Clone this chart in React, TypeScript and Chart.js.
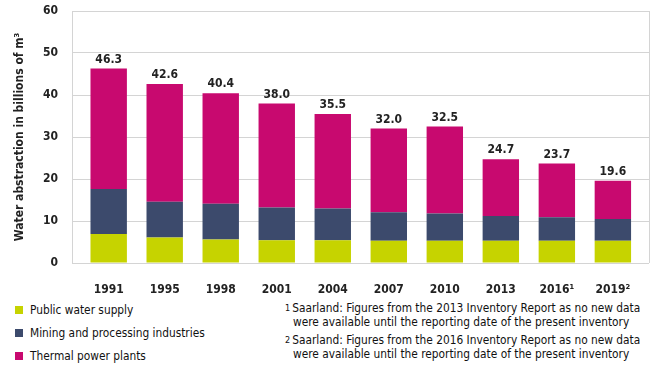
import React, { useEffect, useRef } from "react";
import { Chart, registerables } from "chart.js";

Chart.register(...registerables);

const categories = ["1991", "1995", "1998", "2001", "2004", "2007", "2010", "2013", "2016¹", "2019²"];
const publicSupply = [6.9, 6.1, 5.6, 5.4, 5.4, 5.3, 5.3, 5.3, 5.3, 5.3];
const mining = [10.7, 8.5, 8.5, 7.8, 7.6, 6.8, 6.5, 5.9, 5.6, 5.2];
const thermal = [28.7, 28.0, 26.3, 24.8, 22.5, 19.9, 20.7, 13.5, 12.8, 9.1];
const seriesNames = ["Public water supply", "Mining and processing industries", "Thermal power plants"];
const seriesColors = ["#c6d300", "#3c4a6c", "#c8096f"];
const yTicks = [0, 10, 20, 30, 40, 50, 60];
const yTitle = "Water abstraction in billions of m³";
const footnotes = [
  ["1", "Saarland: Figures from the 2013 Inventory Report as no new data", "were available until the reporting date of the present inventory"],
  ["2", "Saarland: Figures from the 2016 Inventory Report as no new data", "were available until the reporting date of the present inventory"],
];

const FONT = "'DejaVu Sans Condensed', 'Liberation Sans Narrow', 'DejaVu Sans', sans-serif";
const TEXT = "#222";
const GRID = "#d4d4d4";

const totalsPlugin = {
  id: "totals",
  afterDatasetsDraw(chart: any) {
    const ctx = chart.ctx;
    const meta = chart.getDatasetMeta(chart.data.datasets.length - 1);
    ctx.save();
    ctx.font = `bold 12px ${FONT}`;
    ctx.fillStyle = TEXT;
    ctx.textAlign = "center";
    ctx.textBaseline = "bottom";
    categories.forEach((_, i) => {
      const total = publicSupply[i] + mining[i] + thermal[i];
      const el = meta.data[i];
      ctx.fillText(total.toFixed(1), el.x, el.y - 3);
    });
    ctx.restore();
  },
};

const framePlugin = {
  id: "frame",
  beforeDatasetsDraw(chart: any) {
    const { ctx, chartArea } = chart;
    ctx.save();
    ctx.strokeStyle = GRID;
    ctx.lineWidth = 1;
    ctx.beginPath();
    ctx.moveTo(Math.round(chartArea.right) + 0.5, chartArea.top);
    ctx.lineTo(Math.round(chartArea.right) + 0.5, chartArea.bottom);
    ctx.stroke();
    ctx.restore();
  },
};

export default function App() {
  const ref = useRef<HTMLCanvasElement>(null);

  useEffect(() => {
    document.body.style.margin = "0";
    const chart = new Chart(ref.current!, {
      type: "bar",
      data: {
        labels: categories,
        datasets: [publicSupply, mining, thermal].map((d, i) => ({
          label: seriesNames[i],
          data: d,
          backgroundColor: seriesColors[i],
          borderWidth: 0,
          barPercentage: 1,
          categoryPercentage: 0.65,
        })),
      },
      options: {
        animation: false,
        responsive: false,
        maintainAspectRatio: false,
        layout: { autoPadding: false, padding: { top: 11, right: 5, left: 0, bottom: 0 } },
        plugins: { legend: { display: false }, tooltip: { enabled: false } },
        scales: {
          x: {
            stacked: true,
            offset: true,
            grid: { display: false },
            border: { display: false },
            ticks: { color: TEXT, font: { family: FONT, size: 12, weight: "bold" }, padding: 12, maxRotation: 0 },
            afterBuildTicks: (scale: any) => {
              scale._startValue -= 0.155;
              scale._valueRange += 0.3;
            },
            afterFit: (scale: any) => {
              scale.height = 32;
              scale.paddingLeft = 0;
              scale.paddingRight = 0;
            },
          },
          y: {
            stacked: true,
            min: 0,
            max: 60,
            afterBuildTicks: (scale: any) => {
              scale.ticks = yTicks.map((v) => ({ value: v }));
            },
            grid: { color: GRID, drawTicks: false },
            border: { display: true, color: GRID },
            ticks: { color: TEXT, font: { family: FONT, size: 12, weight: "bold" }, padding: 14 },
            title: {
              display: true,
              text: yTitle,
              color: TEXT,
              font: { family: FONT, size: 12, weight: "bold" },
              padding: { top: 13, bottom: 0 },
            },
            afterFit: (scale: any) => {
              scale.width = 72;
              scale.paddingTop = 0;
              scale.paddingBottom = 0;
            },
          },
        },
      },
      plugins: [totalsPlugin, framePlugin],
    } as any);
    return () => chart.destroy();
  }, []);

  return (
    <div style={{ position: "relative", width: 654, height: 369, background: "#fff", fontFamily: FONT, color: "#111" }}>
      <canvas ref={ref} width={654} height={295} style={{ position: "absolute", left: 0, top: 0 }} />
      {seriesNames.map((name, i) => (
        <div
          key={name}
          style={{ position: "absolute", left: 15, top: 303 + i * 23, height: 14, display: "flex", alignItems: "center", fontSize: 11.8 }}
        >
          <span style={{ display: "inline-block", width: 8, height: 8, background: seriesColors[i], marginRight: 7 }} />
          <span>{name}</span>
        </div>
      ))}
      {footnotes.map((f, i) => (
        <div key={f[0]} style={{ position: "absolute", left: 285, top: 302 + i * 32, fontSize: 11.8, lineHeight: "13.5px" }}>
          <div>
            <sup style={{ fontSize: 9, verticalAlign: "top", marginRight: 2 }}>{f[0]}</sup>
            {f[1]}
          </div>
          <div style={{ paddingLeft: 8 }}>{f[2]}</div>
        </div>
      ))}
    </div>
  );
}
